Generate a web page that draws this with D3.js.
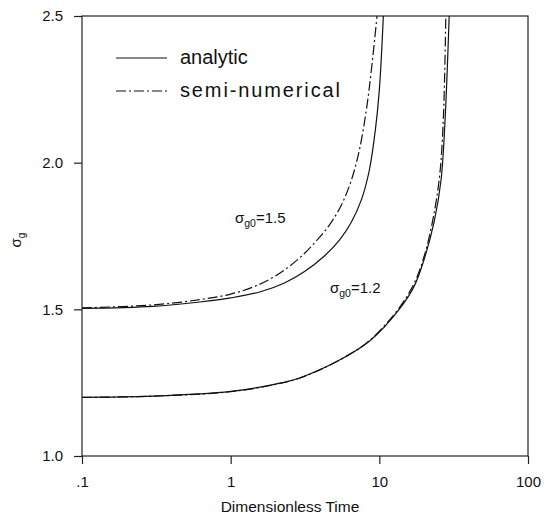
<!DOCTYPE html>
<html lang="en">
  <head>
    <meta charset="UTF-8" />
    <title>sigma_g vs dimensionless time</title>
    <script src="https://cdn.jsdelivr.net/npm/d3@7.6.1/dist/d3.min.js"></script>
    <style>
      body { margin: 0; background: #fff; }
      svg { display: block; font-family: 'Liberation Sans', Arial, sans-serif; }
    </style>
  </head>
  <body>
    <div id="box"></div>
    <script>
      const width = 553;
      const height = 522;

      // data (time, sigma_g)
      const upperAnalytic = [[0.1, 1.503], [0.3, 1.51], [0.62, 1.525], [1, 1.539], [1.565, 1.559], [2.3, 1.59],
        [3.14, 1.629], [4.27, 1.682], [5.39, 1.736], [6.49, 1.798], [7.57, 1.873], [8.57, 1.975],
        [9.4, 2.111], [10.0, 2.248], [10.64, 2.5]];
      const upperSemi = [[0.1, 1.505], [0.3, 1.515], [0.62, 1.533], [1, 1.552], [1.449, 1.578], [1.974, 1.612],
        [2.77, 1.666], [3.66, 1.726], [4.62, 1.788], [5.56, 1.856], [6.49, 1.941], [7.34, 2.043],
        [8.18, 2.18], [8.84, 2.316], [9.65, 2.5]];
      const lowerAnalytic = [[0.1, 1.2], [0.3, 1.204], [1, 1.22], [2, 1.245], [2.9, 1.266], [5.4, 1.327],
        [8.6, 1.392], [13.6, 1.5], [17.2, 1.58], [20, 1.67], [23.4, 1.8], [26, 1.94], [27.7, 2.15], [29.5, 2.5]];
      const lowerSemi = [[0.1, 1.2], [0.3, 1.204], [1, 1.219], [2, 1.244], [2.9, 1.265], [5.4, 1.327],
        [8.6, 1.394], [13.6, 1.505], [17.2, 1.59], [20, 1.68], [23, 1.81], [25.5, 1.96], [27, 2.16], [28, 2.5]];

      const xTicks = [0.1, 1, 10, 100];
      const xTickLabels = ['.1', '1', '10', '100'];
      const yTicks = [1.0, 1.5, 2.0, 2.5];
      const legendLabels = ['analytic', 'semi-numerical'];

      const margin = {left: 82, right: 25, top: 16, bottom: 66};
      const svg = d3.select('#box').append('svg').attr('width', width).attr('height', height);

      const x = d3.scaleLog().domain([0.1, 100]).range([margin.left, width - margin.right]);
      const y = d3.scaleLinear().domain([1.0, 2.5]).range([height - margin.bottom, margin.top]);

      svg.append('clipPath').attr('id', 'clip')
        .append('rect')
        .attr('x', margin.left).attr('y', margin.top)
        .attr('width', width - margin.left - margin.right)
        .attr('height', height - margin.top - margin.bottom);

      // frame
      svg.append('rect')
        .attr('x', margin.left).attr('y', margin.top)
        .attr('width', width - margin.left - margin.right)
        .attr('height', height - margin.top - margin.bottom)
        .attr('fill', 'none').attr('stroke', '#222').attr('stroke-width', 1.2);

      // axes
      const xAxis = d3.axisBottom(x).tickValues(xTicks)
        .tickFormat((d, i) => xTickLabels[i]).tickSize(8).tickSizeOuter(0);
      const gx = svg.append('g')
        .attr('transform', `translate(0,${height - margin.bottom})`)
        .call(xAxis);
      gx.select('.domain').remove();
      gx.selectAll('line').attr('stroke', '#222').attr('stroke-width', 1.2);
      gx.selectAll('text').attr('font-size', 15).attr('fill', '#111').attr('y', 31).attr('dy', null);

      const yAxis = d3.axisLeft(y).tickValues(yTicks).tickFormat(d3.format('.1f')).tickSize(8).tickSizeOuter(0);
      const gy = svg.append('g')
        .attr('transform', `translate(${margin.left},0)`)
        .call(yAxis);
      gy.select('.domain').remove();
      gy.selectAll('line').attr('stroke', '#222').attr('stroke-width', 1.2);
      gy.selectAll('text').attr('font-size', 15).attr('fill', '#111').attr('x', -19);

      // axis titles
      svg.append('text')
        .attr('x', 290).attr('y', 512)
        .attr('text-anchor', 'middle').attr('font-size', 15.5).attr('fill', '#111')
        .text('Dimensionless Time');

      const yTitle = svg.append('text')
        .attr('transform', 'translate(21,240) rotate(-90)')
        .attr('text-anchor', 'middle').attr('font-size', 15).attr('fill', '#111');
      yTitle.append('tspan').text('σ');
      yTitle.append('tspan').attr('font-size', 10).attr('dy', 4).text('g');

      // curves
      const line = d3.line().x(d => x(d[0])).y(d => y(d[1])).curve(d3.curveCatmullRom.alpha(0.5));
      const dashDot = '10,3,2,3';
      const curves = [
        {data: upperAnalytic, dash: null},
        {data: upperSemi, dash: dashDot},
        {data: lowerAnalytic, dash: null},
        {data: lowerSemi, dash: dashDot}
      ];
      svg.append('g').attr('clip-path', 'url(#clip)')
        .selectAll('path')
        .data(curves)
        .enter()
        .append('path')
        .attr('d', d => line(d.data))
        .attr('fill', 'none')
        .attr('stroke', '#111')
        .attr('stroke-width', 1.2)
        .attr('stroke-dasharray', d => d.dash);

      // legend
      const legend = svg.append('g');
      legendLabels.forEach((lab, i) => {
        const ly = 58 + i * 33;
        legend.append('line')
          .attr('x1', 116).attr('x2', 167).attr('y1', ly).attr('y2', ly)
          .attr('stroke', '#111').attr('stroke-width', 1.2)
          .attr('stroke-dasharray', i === 0 ? null : dashDot);
        const t = legend.append('text')
          .attr('x', 180).attr('y', ly + 6)
          .attr('font-size', 20).attr('fill', '#111')
          .text(lab);
        if (i === 1) t.attr('textLength', 160).attr('lengthAdjust', 'spacing');
      });

      // curve labels
      const curveLabels = [{x: 235, y: 223, text: '1.5'}, {x: 330, y: 293, text: '1.2'}];
      curveLabels.forEach(c => {
        const t = svg.append('text').attr('x', c.x).attr('y', c.y).attr('font-size', 15).attr('fill', '#111');
        t.append('tspan').text('σ');
        t.append('tspan').attr('font-size', 10.5).attr('dy', 4).text('g0');
        t.append('tspan').attr('dy', -4).text('=' + c.text);
      });
    </script>
  </body>
</html>
